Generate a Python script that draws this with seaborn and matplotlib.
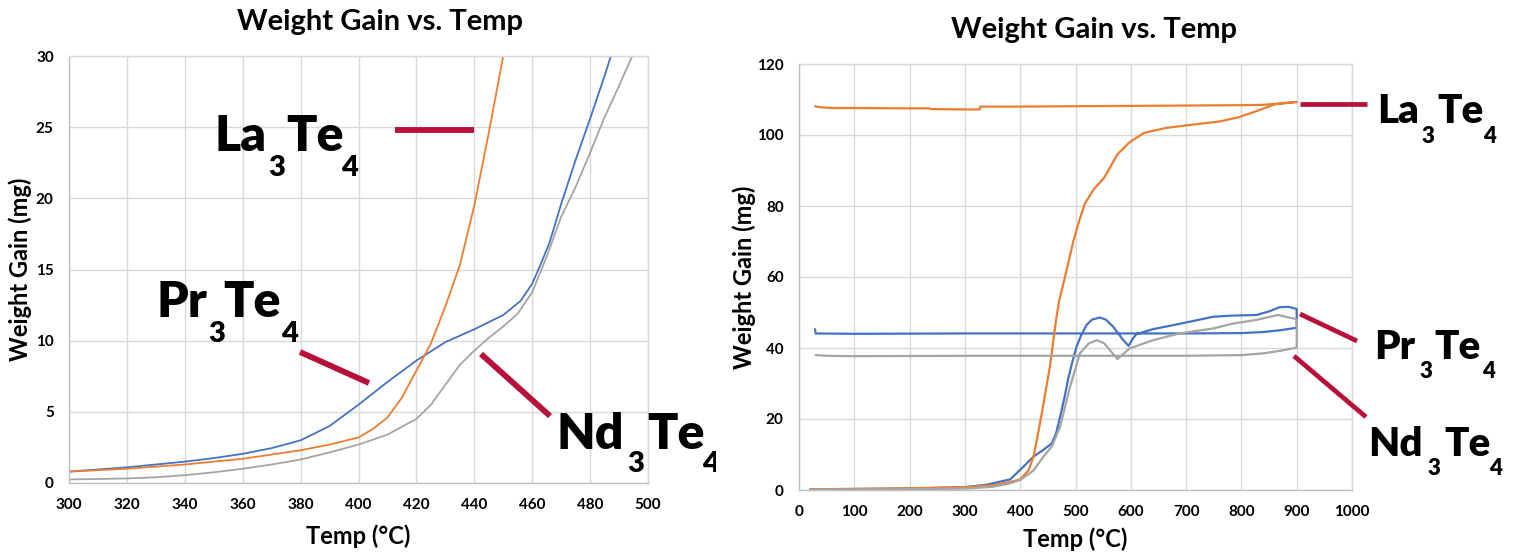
import pandas as pd
import seaborn as sns
import matplotlib.pyplot as plt
from matplotlib.lines import Line2D
from matplotlib.transforms import Bbox

# ---- data ----
# left panel: heating, 300-500 C
left_la_temp = [300, 310, 320, 330, 340, 350, 360, 370, 380, 390, 400, 405, 410, 415, 420, 425, 430, 435, 440, 445, 450, 452]
left_la_gain = [0.8, 0.9, 1.0, 1.15, 1.3, 1.5, 1.7, 2.0, 2.3, 2.7, 3.2, 3.8, 4.6, 6.0, 7.9, 9.8, 12.4, 15.3, 19.5, 24.6, 30.0, 32.0]

left_pr_temp = [300, 310, 320, 330, 340, 350, 360, 370, 380, 390, 400, 410, 420, 430, 440, 450, 456, 460, 463, 466, 470, 475, 480, 485, 490]
left_pr_gain = [0.8, 0.95, 1.1, 1.3, 1.5, 1.75, 2.05, 2.45, 3.0, 4.0, 5.5, 7.1, 8.6, 9.9, 10.8, 11.8, 12.8, 14.0, 15.4, 16.9, 19.6, 22.7, 25.6, 28.6, 31.8]

left_nd_temp = [300, 310, 320, 330, 340, 350, 360, 370, 380, 390, 400, 410, 420, 425, 430, 435, 440, 445, 450, 455, 460, 465, 470, 475, 480, 485, 490, 495]
left_nd_gain = [0.25, 0.28, 0.32, 0.4, 0.55, 0.75, 1.0, 1.3, 1.65, 2.15, 2.7, 3.4, 4.5, 5.5, 6.9, 8.3, 9.3, 10.2, 11.0, 11.9, 13.4, 15.9, 18.7, 20.8, 23.2, 25.7, 27.9, 30.2]

# right panel: full heat + cool loop
right_la_temp = [22, 100, 200, 300, 350, 380, 400, 415, 424, 430, 439, 454, 464, 470, 481, 496, 506, 517, 533, 552, 576, 598, 624, 664, 716, 760, 795, 825, 860, 880, 900,
                 870, 840, 800, 700, 600, 500, 400, 328, 327, 300, 240, 236, 200, 100, 60, 40, 29]
right_la_gain = [0.2, 0.3, 0.5, 0.8, 1.3, 2.2, 3.0, 5.5, 9.4, 14.0, 21.6, 35.0, 47.0, 53.0, 60.0, 70.0, 75.5, 80.7, 84.7, 88.0, 94.6, 98.0, 100.6, 102.0, 103.0, 103.8, 105.0, 106.6, 108.6, 109.0, 109.3,
                 108.9, 108.5, 108.4, 108.3, 108.2, 108.1, 108.0, 108.0, 107.2, 107.2, 107.3, 107.5, 107.5, 107.6, 107.6, 107.8, 108.1]

right_pr_temp = [20, 100, 200, 300, 340, 382, 406, 424, 441, 457, 465, 472, 480, 487, 495, 502, 510, 520, 530, 544, 555, 568, 586, 596, 603, 610, 640, 688, 749, 779, 827, 850, 869, 885, 900,
                 900, 870, 840, 800, 700, 500, 300, 100, 30, 29]
right_pr_gain = [0.2, 0.3, 0.4, 0.8, 1.5, 3.0, 6.6, 9.4, 11.2, 13.1, 16.0, 20.5, 26.0, 31.5, 36.5, 40.4, 43.5, 46.5, 48.0, 48.6, 48.0, 46.0, 42.3, 40.6, 42.5, 43.9, 45.3, 46.8, 48.8, 49.1, 49.3, 50.3, 51.5, 51.6, 51.0,
                 45.7, 45.0, 44.5, 44.2, 44.1, 44.1, 44.1, 44.0, 44.1, 45.3]

right_nd_temp = [20, 100, 200, 300, 350, 380, 400, 424, 442, 457, 472, 490, 508, 524, 539, 552, 568, 576, 598, 640, 688, 749, 785, 827, 866, 900,
                 900, 870, 840, 800, 700, 500, 300, 100, 50, 30]
right_nd_gain = [0.1, 0.15, 0.25, 0.4, 0.9, 1.8, 2.8, 5.5, 9.4, 12.2, 17.8, 29.0, 38.5, 41.3, 42.2, 41.3, 38.3, 36.9, 39.9, 42.2, 44.1, 45.5, 46.9, 47.9, 49.3, 48.1,
                 40.1, 39.2, 38.5, 38.0, 37.8, 37.8, 37.8, 37.7, 37.8, 38.0]

colors = {"La3Te4": "#ED7D31", "Pr3Te4": "#4472C4", "Nd3Te4": "#A5A5A5"}
red = "#B8103A"


def frame(parts):
    rows = []
    for name, temp, gain in parts:
        for i, (t, g) in enumerate(zip(temp, gain)):
            rows.append({"Temp": t, "Gain": g, "sample": name, "step": i})
    return pd.DataFrame(rows)


left_df = frame([("Pr3Te4", left_pr_temp, left_pr_gain),
                 ("La3Te4", left_la_temp, left_la_gain),
                 ("Nd3Te4", left_nd_temp, left_nd_gain)])
right_df = frame([("Pr3Te4", right_pr_temp, right_pr_gain),
                  ("La3Te4", right_la_temp, right_la_gain),
                  ("Nd3Te4", right_nd_temp, right_nd_gain)])

sns.set_theme(style="whitegrid")
plt.rcParams["font.family"] = ["Lato", "DejaVu Sans"]
plt.rcParams["font.weight"] = "bold"
plt.rcParams["text.color"] = "black"
plt.rcParams["axes.labelcolor"] = "black"

W, H = 1518, 552
fig = plt.figure(figsize=(W / 100, H / 100), dpi=100)
ax1 = fig.add_axes([69 / W, 1 - 483 / H, 579 / W, 427 / H])
ax2 = fig.add_axes([799 / W, 1 - 490 / H, 553 / W, 426 / H])

sns.lineplot(data=left_df, x="Temp", y="Gain", hue="sample", palette=colors,
             sort=False, estimator=None, legend=False, linewidth=1.3, ax=ax1)
sns.lineplot(data=right_df, x="Temp", y="Gain", hue="sample", palette=colors,
             sort=False, estimator=None, legend=False, linewidth=1.6, ax=ax2)

ax1.set_xlim(300, 500)
ax1.set_ylim(0, 30)
ax1.set_xticks(range(300, 501, 20))
ax1.set_yticks(range(0, 31, 5))
ax2.set_xlim(0, 1000)
ax2.set_ylim(0, 120)
ax2.set_xticks(range(0, 1001, 100))
ax2.set_yticks(range(0, 121, 20))

for ax in (ax1, ax2):
    ax.grid(True, color="#D9D9D9", linewidth=1.0)
    for s in ax.spines.values():
        s.set_color("#D9D9D9")
        s.set_linewidth(1.0)
    ax.spines["bottom"].set_color("#BFBFBF")
    ax.spines["left"].set_color("#BFBFBF")
    ax.tick_params(length=0, pad=11, labelsize=11, labelcolor="black")
    for lab in ax.get_xticklabels() + ax.get_yticklabels():
        lab.set_fontweight("bold")
    ax.set_xlabel("Temp (°C)", fontsize=17, fontweight="bold", va="top", color="black")
    ax.set_ylabel("Weight Gain (mg)", fontsize=17, fontweight="bold", color="black")

ax1.xaxis.set_label_coords(0.5, -0.096)
ax1.yaxis.set_label_coords(-0.064, 0.5)
ax2.xaxis.set_label_coords(0.5, -0.087)
ax2.yaxis.set_label_coords(-0.078, 0.5)

ax1.set_title("Weight Gain vs. Temp", fontsize=21, fontweight="bold", color="black",
              x=(380 - 69) / 579, y=1 + (56 - 22) / 427, va="center", pad=0)
ax2.set_title("Weight Gain vs. Temp", fontsize=21, fontweight="bold", color="black",
              x=(1094 - 799) / 553, y=1 + (64 - 30) / 426, va="center", pad=0)

# ---- big formula labels with leader lines (pixel positions) ----
left_clip = Bbox.from_extents(0, 0, 716, H)


def formula(el, xs, base, sub, big, small, clip=None):
    pieces = [(el, xs[0], base, big), ("3", xs[1], sub, small),
              ("Te", xs[2], base, big), ("4", xs[3], sub, small)]
    for txt, x, y, size in pieces:
        t = fig.text(x / W, 1 - y / H, txt, fontsize=size, fontweight="heavy",
                     ha="left", va="baseline", color="black")
        if clip is not None:
            t.set_clip_box(clip)
            t.set_clip_on(True)


def leader(x0, y0, x1, y1, lw):
    fig.add_artist(Line2D([x0 / W, x1 / W], [1 - y0 / H, 1 - y1 / H],
                          transform=fig.transFigure, color=red, linewidth=lw,
                          solid_capstyle="butt"))


formula("La", (214, 268, 286, 341), 151, 176, 36, 21)
formula("Pr", (156, 208, 223, 281), 317, 342, 36, 21)
formula("Nd", (556, 627, 647, 702), 449, 472, 36, 21, clip=left_clip)
leader(395, 130, 474, 130, 4.2)
leader(300, 352, 369, 383, 4.2)
leader(481, 354, 550, 416, 4.2)

formula("La", (1377, 1422, 1437, 1483), 123, 143, 29, 16)
formula("Pr", (1374, 1419, 1434, 1482), 359, 378, 29, 16)
formula("Nd", (1368, 1427, 1444, 1489), 456, 475, 29, 16)
leader(1300, 104, 1367, 104, 3.4)
leader(1300, 314, 1357, 341, 3.4)
leader(1294, 356, 1366, 417, 3.4)

fig.savefig("out.png", dpi=100)
